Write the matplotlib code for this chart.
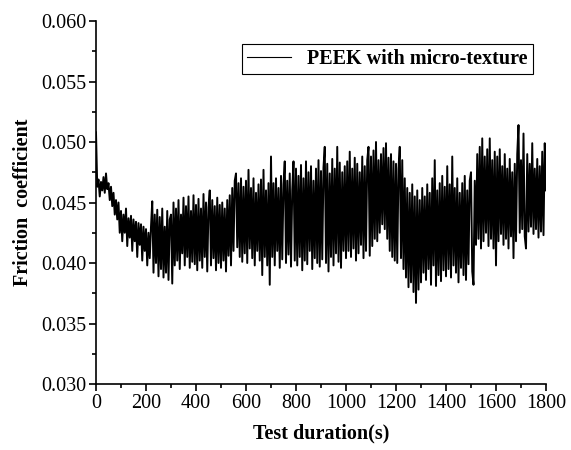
import matplotlib
matplotlib.use("Agg")
import matplotlib.pyplot as plt
from matplotlib.ticker import MultipleLocator, FormatStrFormatter
import numpy as np

plt.rcParams['font.family'] = ['Liberation Serif', 'DejaVu Serif']

# friction coefficient, units of 1e-4, one value every 5 s
mu_0_95 = [508, 463, 469, 455, 467, 460, 471, 458, 474, 461, 466, 452, 463, 447, 458, 440, 452, 436, 450, 425]
mu_100_195 = [443, 418, 440, 425, 445, 414, 437, 421, 439, 410, 436, 418, 434, 405, 433, 415, 432, 402, 430, 410]
mu_200_295 = [428, 398, 425, 404, 430, 451, 392, 440, 400, 444, 389, 438, 395, 445, 388, 430, 392, 443, 386, 436]
mu_300_395 = [440, 383, 450, 398, 445, 402, 452, 395, 440, 408, 454, 398, 447, 405, 455, 396, 443, 401, 456, 399]
mu_400_495 = [448, 394, 453, 402, 445, 396, 457, 405, 450, 393, 446, 460, 398, 452, 404, 447, 394, 454, 400, 448]
mu_500_595 = [396, 450, 402, 445, 393, 452, 406, 456, 398, 462, 410, 468, 474, 413, 466, 405, 470, 401, 463, 408]
mu_600_695 = [468, 400, 477, 412, 462, 404, 470, 398, 458, 410, 465, 402, 469, 390, 477, 405, 460, 398, 466, 382]
mu_700_795 = [488, 405, 466, 398, 470, 410, 462, 396, 472, 403, 465, 484, 400, 468, 407, 474, 397, 460, 484, 402]
mu_800_895 = [478, 398, 472, 405, 481, 394, 470, 402, 484, 399, 475, 410, 480, 395, 468, 404, 478, 400, 485, 397]
mu_900_995 = [476, 403, 479, 496, 400, 482, 393, 474, 405, 486, 398, 478, 408, 496, 401, 483, 396, 475, 410, 480]
mu_1000_1095 = [404, 484, 410, 492, 405, 478, 412, 487, 402, 482, 408, 475, 415, 488, 404, 480, 410, 485, 496, 406]
mu_1100_1195 = [488, 414, 493, 420, 500, 418, 485, 425, 490, 432, 495, 428, 499, 420, 487, 410, 490, 405, 484, 402]
mu_1200_1295 = [482, 400, 478, 496, 404, 485, 395, 470, 388, 462, 380, 458, 384, 465, 376, 455, 367, 460, 378, 452]
mu_1300_1395 = [384, 462, 392, 455, 386, 465, 395, 458, 382, 470, 398, 485, 381, 460, 390, 466, 385, 472, 394, 463]
mu_1400_1495 = [389, 480, 395, 465, 388, 488, 398, 462, 392, 470, 384, 458, 396, 466, 390, 472, 386, 460, 399, 468]
mu_1500_1595 = [475, 393, 382, 468, 415, 490, 420, 496, 412, 503, 418, 488, 425, 494, 414, 503, 420, 485, 412, 492]
mu_1600_1695 = [398, 488, 418, 494, 424, 480, 415, 490, 420, 478, 412, 486, 422, 475, 404, 482, 418, 490, 514, 425]
mu_1700_1800 = [485, 428, 507, 422, 412, 490, 426, 482, 430, 499, 424, 478, 428, 486, 421, 480, 426, 492, 423, 499, 460]

mu = np.array(mu_0_95 + mu_100_195 + mu_200_295 + mu_300_395 + mu_400_495 + mu_500_595
              + mu_600_695 + mu_700_795 + mu_800_895 + mu_900_995 + mu_1000_1095
              + mu_1100_1195 + mu_1200_1295 + mu_1300_1395 + mu_1400_1495
              + mu_1500_1595 + mu_1600_1695 + mu_1700_1800) * 1e-4
t = np.arange(len(mu)) * 5

fig = plt.figure(figsize=(5.71, 4.5), dpi=100)
ax = fig.add_axes([96/571, 66/450, 450/571, 363/450])

ax.plot(t, mu, '-', color='black', lw=1.4, label='PEEK with micro-texture')

ax.set_xlim(0, 1800)
ax.set_ylim(0.030, 0.060)
ax.xaxis.set_major_locator(MultipleLocator(200))
ax.xaxis.set_minor_locator(MultipleLocator(100))
ax.yaxis.set_major_locator(MultipleLocator(0.005))
ax.yaxis.set_minor_locator(MultipleLocator(0.0025))
ax.yaxis.set_major_formatter(FormatStrFormatter('%.3f'))

for s in ['top', 'right']:
    ax.spines[s].set_visible(False)
for s in ['left', 'bottom']:
    ax.spines[s].set_linewidth(1.2)
ax.tick_params(which='major', direction='out', length=5, width=1.2, labelsize=14.5, pad=2)
ax.tick_params(which='minor', direction='out', length=3, width=1.2)

ax.set_xlabel('Test duration(s)', fontsize=14.5, fontweight='bold', labelpad=8)
ax.set_ylabel('Friction  coefficient', fontsize=14.5, fontweight='bold', labelpad=6)

leg = ax.legend(loc='upper right', bbox_to_anchor=(533/571, 406/450),
                bbox_transform=fig.transFigure, borderaxespad=0,
                fancybox=False, framealpha=1, edgecolor='black',
                prop={'weight': 'bold', 'size': 14.5}, handlelength=2.2,
                borderpad=0.25, handletextpad=0.8)
leg.get_frame().set_linewidth(0.8)
for line in leg.get_lines():
    line.set_linewidth(0.8)

fig.savefig('out.png', dpi=100)
